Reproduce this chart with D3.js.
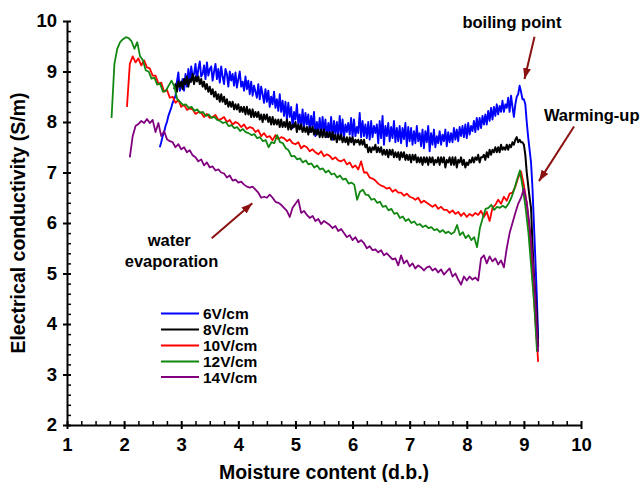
<!DOCTYPE html>
<html><head><meta charset="utf-8">
<script src="https://cdn.jsdelivr.net/npm/d3@7"></script>
<style>
html,body{margin:0;padding:0;background:#fff;}
svg text{font-family:"Liberation Sans",Arial,Helvetica,sans-serif;font-weight:bold;fill:#000;}
</style></head><body>
<svg id="chart" width="644" height="482"></svg>
<script>
const xTicks = [1,2,3,4,5,6,7,8,9,10];
const yTicks = [2,3,4,5,6,7,8,9,10];
const seriesLabels = ["6V/cm","8V/cm","10V/cm","12V/cm","14V/cm"];
const seriesColors = ["#0000ff","#000000","#ff0000","#118811","#800080"];
const seriesWidths = [1.9, 2, 1.8, 1.8, 1.8];
const seriesStart = [2.625, 2.875, 2.05, 1.78, 2.1];
const seriesStep = [0.025, 0.025, 0.05, 0.05, 0.05];

const ec6 = [7.5,7.6,7.72,7.8, 7.92,8.0,8.12,8.2, 8.28,8.38,8.45,8.52, 8.8,8.98,8.62,8.72, 8.85,8.62,8.95,8.7, 9.05,8.78,9.1,8.9, 8.95,9.15,8.82,9.05, 9.2,8.9,8.95,9.12, 8.85,9.18,8.92,9.05, 9.1,8.82,9.0,9.15, 8.85,9.05,8.78,9.1, 8.9,8.75,9.05,8.95, 8.7,9.0,8.82,8.95, 8.72,8.98,8.68,8.85, 9.0,8.7,8.8,8.62, 8.9,8.65,8.82,8.55, 8.8,8.52,8.72,8.6, 8.48,8.75,8.45,8.7, 8.55,8.38,8.65,8.4, 8.62,8.3,8.5,8.35, 8.6,8.28,8.45,8.22, 8.55,8.2,8.42,8.12, 8.4,8.05,8.38,8.1, 8.3,7.88,8.2,8.05, 8.35,7.95,8.15,7.9, 8.25,7.88,8.18,7.95, 8.15,7.8,8.12,7.9, 8.2,7.72,8.0,7.82, 8.08,7.75,8.1,7.8, 8.05,7.7,7.98,7.78, 8.1,7.65,8.02,7.75, 8.0,7.7,8.12,7.72, 8.05,7.68,7.95,7.8, 7.98,7.75,8.08,7.7, 8.05,7.72,7.9,7.78, 8.18,7.7,8.02,7.72, 7.95,7.68,8.0,7.65, 8.02,7.7,7.92,7.78, 7.95,7.58,8.02,7.68, 8.12,7.55,7.92,7.72, 7.98,7.62,7.9,7.68, 8.02,7.6,7.88,7.62, 7.92,7.58,7.88,7.66, 7.98,7.52,7.9,7.62, 7.88,7.55,7.82,7.58, 7.92,7.62,7.78,7.52, 7.85,7.48,7.82,7.6, 7.92,7.42,7.78,7.55, 7.85,7.5,7.72,7.58, 7.82,7.55,7.75,7.62, 7.85,7.52,7.8,7.6, 7.78,7.6,7.88,7.65, 7.85,7.62,7.9,7.72, 7.92,7.7,7.95,7.68, 7.98,7.75,7.92,7.82, 8.02,7.8,8.08,7.85, 8.08,7.88,8.12,7.95, 8.15,7.95,8.22,8.02, 8.28,8.05,8.3,8.12, 8.35,8.15,8.32,8.2, 8.42,8.2,8.35,8.28, 8.48,8.2,8.52,8.3, 8.1,8.35,8.5,8.55, 8.72,8.6,8.45,8.45, 8.35,8.0,7.7,7.45, 7.2,6.7,6.0,5.3, 4.6,3.7];

const ec8 = [8.65,8.75,8.6,8.8, 8.7,8.8,8.65,8.85, 8.75,8.9,8.7,8.85, 8.8,8.95,8.75,8.9, 8.8,8.9,8.75,8.85, 8.7,8.8,8.65,8.75, 8.6,8.7,8.55,8.65, 8.5,8.6,8.45,8.55, 8.4,8.55,8.4,8.5, 8.35,8.45,8.3,8.4, 8.3,8.4,8.25,8.35, 8.25,8.35,8.2,8.3, 8.2,8.3,8.15,8.3, 8.15,8.25,8.1,8.25, 8.1,8.2,8.1,8.2, 8.05,8.15,8.0,8.15, 8.05,8.15,8.0,8.1, 7.95,8.1,7.95,8.05, 7.95,8.05,7.9,8.05, 7.9,8.0,7.9,8.05, 7.85,8.0,7.85,7.95, 7.9,8.0,7.8,7.95, 7.85,7.95,7.8,7.9, 7.8,7.9,7.75,7.9, 7.8,7.9,7.75,7.85, 7.75,7.85,7.7,7.85, 7.7,7.85,7.7,7.8, 7.7,7.8,7.65,7.8, 7.65,7.75,7.6,7.75, 7.65,7.75,7.6,7.7, 7.6,7.7,7.55,7.7, 7.6,7.7,7.55,7.65, 7.6,7.65,7.55,7.65, 7.55,7.65,7.5,7.55, 7.4,7.5,7.4,7.5, 7.45,7.55,7.4,7.5, 7.4,7.5,7.35,7.45, 7.35,7.45,7.3,7.45, 7.35,7.45,7.3,7.4, 7.3,7.4,7.25,7.4, 7.3,7.4,7.25,7.35, 7.25,7.35,7.2,7.35, 7.25,7.35,7.2,7.3, 7.2,7.3,7.15,7.3, 7.2,7.3,7.15,7.3, 7.2,7.3,7.15,7.25, 7.2,7.3,7.15,7.3, 7.2,7.3,7.1,7.25, 7.2,7.3,7.15,7.3, 7.15,7.3,7.1,7.25, 7.2,7.3,7.15,7.25, 7.1,7.2,7.15,7.25, 7.2,7.3,7.2,7.3, 7.25,7.35,7.2,7.3, 7.3,7.35,7.25,7.4, 7.3,7.45,7.35,7.45, 7.4,7.5,7.4,7.5, 7.4,7.55,7.45,7.5, 7.45,7.55,7.45,7.55, 7.5,7.6,7.55,7.65, 7.7,7.6,7.65,7.6, 7.6,7.55,7.35,7.0, 6.75,6.5,6.3,5.6, 5.0,4.6,4.2,3.55];

const ec10 = [8.3,9.15,9.3,9.18,9.26,9.12,9.22,9.08,9.06,8.92,8.92,8.76,8.78,8.6,8.64,8.48,8.5,8.38,8.44,8.3,8.34,8.24,8.27,8.25,8.16,8.2,8.18,8.1,8.16,8.08,8.1,8.14,8.04,8.06,8.1,8.0,8.04,7.95,8.0,7.97,7.9,7.95,7.86,7.9,7.88,7.8,7.84,7.72,7.78,7.7,7.72,7.64,7.74,7.66,7.7,7.68,7.62,7.66,7.58,7.56,7.6,7.48,7.53,7.5,7.42,7.46,7.4,7.36,7.42,7.32,7.36,7.33,7.26,7.3,7.24,7.22,7.26,7.16,7.2,7.1,7.14,7.06,7.22,7.0,7.0,6.9,6.88,6.84,6.78,6.74,6.72,6.68,6.7,6.62,6.66,6.6,6.6,6.54,6.58,6.52,6.5,6.46,6.5,6.4,6.44,6.4,6.36,6.32,6.36,6.28,6.32,6.26,6.26,6.2,6.25,6.18,6.22,6.14,6.2,6.12,6.18,6.14,6.2,6.16,6.24,6.12,6.22,6.04,6.3,6.36,6.46,6.38,6.52,6.44,6.58,6.6,6.72,6.9,7.02,6.75,6.4,5.85,4.95,4.1,3.25];

const ec12 = [8.08,9.15,9.45,9.58,9.64,9.68,9.66,9.6,9.45,9.58,9.3,9.22,9.02,9.0,8.86,8.88,8.74,8.76,8.6,8.62,8.72,8.82,8.7,8.45,8.4,8.34,8.35,8.28,8.3,8.22,8.25,8.18,8.2,8.12,8.15,8.08,8.1,8.04,8.02,7.98,8.0,7.92,7.94,7.88,7.9,7.82,7.86,7.8,7.78,7.74,7.76,7.68,7.7,7.62,7.64,7.5,7.6,7.58,7.74,7.6,7.58,7.48,7.44,7.32,7.33,7.26,7.28,7.2,7.24,7.16,7.18,7.1,7.14,7.06,7.08,7.0,7.04,6.96,6.98,6.9,6.94,6.86,6.88,6.78,6.8,6.76,6.46,6.62,6.66,6.56,6.55,6.46,6.48,6.4,6.42,6.32,6.34,6.25,6.28,6.18,6.2,6.1,6.13,6.04,6.08,6.0,6.03,5.96,5.98,5.92,5.95,5.9,5.92,5.86,5.88,5.82,5.86,5.8,5.83,5.78,5.82,5.96,5.76,5.82,5.7,5.76,5.66,5.72,5.52,5.9,6.1,6.28,6.3,6.36,6.26,6.32,6.3,6.34,6.3,6.38,6.5,6.66,6.86,7.04,6.7,6.3,5.8,5.1,4.4,3.45];

const ec14 = [7.3,7.72,7.92,7.96,8.02,7.98,8.06,7.98,8.04,7.8,7.98,7.72,7.82,7.66,7.62,7.6,7.5,7.56,7.46,7.5,7.4,7.44,7.34,7.3,7.22,7.26,7.14,7.2,7.1,7.12,7.04,7.06,7.0,6.98,6.9,6.94,6.84,6.86,6.8,6.82,6.76,6.72,6.7,6.72,6.66,6.6,6.5,6.52,6.5,6.56,6.5,6.42,6.4,6.36,6.3,6.24,6.12,6.3,6.38,6.46,6.2,6.24,6.16,6.1,6.14,6.04,6.08,5.98,6.04,6.0,5.96,5.9,5.94,5.84,5.88,5.8,5.72,5.76,5.66,5.72,5.62,5.66,5.6,5.5,5.54,5.46,5.48,5.42,5.46,5.36,5.4,5.34,5.28,5.3,5.16,5.36,5.2,5.26,5.14,5.2,5.1,5.16,5.12,5.06,5.12,5.14,5.06,5.1,5.02,5.08,4.98,5.04,5.1,4.94,5.0,4.88,4.78,4.94,4.86,4.94,4.88,4.92,4.86,5.3,5.36,5.2,5.34,5.24,5.3,5.18,5.26,5.12,5.5,5.8,6.0,6.2,6.38,6.5,6.68,6.4,5.95,5.3,4.5,3.45];

const seriesValues = [ec6, ec8, ec10, ec12, ec14];

// annotations (data coordinates)
const annoTexts = [
  {t:"boiling point", x:8.79, y:9.86, anchor:"middle"},
  {t:"Warming-up", x:9.35, y:8.01, anchor:"start"},
  {t:"water", x:2.79, y:5.545, anchor:"middle"},
  {t:"evaporation", x:2.83, y:5.13, anchor:"middle"}
];
const annoArrows = [
  {x1:9.186, y1:9.69, x2:9.011, y2:8.85},
  {x1:9.878, y1:7.91, x2:9.265, y2:6.83},
  {x1:3.534, y1:5.70, x2:4.245, y2:6.39}
];

const svg = d3.select("#chart");
const X0 = 67, X1 = 581, Y0 = 425, Y1 = 21;
const x = d3.scaleLinear().domain([1,10]).range([X0,X1]);
const y = d3.scaleLinear().domain([2,10]).range([Y0,Y1]);

// minor ticks
const xMinor = d3.range(1,10.001,0.25).filter(v => Math.abs(v-Math.round(v))>1e-6);
const yMinor = d3.range(2,10.001,0.2).filter(v => Math.abs(v-Math.round(v))>1e-6);

svg.append("g").attr("transform",`translate(0,${Y0})`)
  .call(d3.axisBottom(x).tickValues(xMinor).tickSize(-4).tickSizeOuter(0).tickFormat(""))
  .call(g => g.select(".domain").remove())
  .selectAll("line").attr("stroke","#000").attr("stroke-width",1.5);
svg.append("g").attr("transform",`translate(${X0},0)`)
  .call(d3.axisLeft(y).tickValues(yMinor).tickSize(-4).tickSizeOuter(0).tickFormat(""))
  .call(g => g.select(".domain").remove())
  .selectAll("line").attr("stroke","#000").attr("stroke-width",1.5);

const gx = svg.append("g").attr("transform",`translate(0,${Y0})`)
  .call(d3.axisBottom(x).tickValues(xTicks).tickSize(4).tickSizeOuter(0).tickPadding(9).tickFormat(d3.format("d")));
gx.select(".domain").attr("stroke","#000").attr("stroke-width",2);
gx.selectAll(".tick line").attr("y1",-4).attr("y2",4).attr("stroke","#000").attr("stroke-width",2);
gx.selectAll(".tick text").attr("font-size",18.5).attr("font-family",null);

const gy = svg.append("g").attr("transform",`translate(${X0},0)`)
  .call(d3.axisLeft(y).tickValues(yTicks).tickSize(4).tickSizeOuter(0).tickPadding(6).tickFormat(d3.format("d")));
gy.select(".domain").attr("stroke","#000").attr("stroke-width",2);
gy.selectAll(".tick line").attr("x1",4).attr("x2",-4).attr("stroke","#000").attr("stroke-width",2);
gy.selectAll(".tick text").attr("font-size",18.5).attr("font-family",null);

// axis titles
svg.append("text").attr("x",(X0+X1)/2).attr("y",479).attr("text-anchor","middle")
  .attr("font-size",19.5).text("Moisture content (d.b.)");
svg.append("text").attr("transform",`translate(25,${(Y0+Y1)/2}) rotate(-90)`).attr("text-anchor","middle")
  .attr("font-size",19.5).text("Electrical conductivity (S/m)");

// series
const line = d3.line().x(d => x(d[0])).y(d => y(d[1]));
seriesValues.forEach((vals,i) => {
  const pts = vals.map((v,j) => [seriesStart[i] + j*seriesStep[i], v]);
  svg.append("path").datum(pts).attr("d",line).attr("fill","none")
    .attr("stroke",seriesColors[i]).attr("stroke-width", seriesWidths[i])
    .attr("stroke-linejoin","round");
});

// legend
const legY = [313.5, 329.5, 345.5, 361.5, 377];
seriesLabels.forEach((lab,i) => {
  svg.append("line").attr("x1",161).attr("x2",199).attr("y1",legY[i]).attr("y2",legY[i])
    .attr("stroke",seriesColors[i]).attr("stroke-width",2);
  svg.append("text").attr("x",203).attr("y",legY[i]+5.5).attr("font-size",15.5).text(lab);
});

// annotations
const arrowColor = "#8b1010";
svg.append("defs").append("marker").attr("id","ah").attr("markerUnits","userSpaceOnUse")
  .attr("markerWidth",11).attr("markerHeight",8).attr("refX",11).attr("refY",4).attr("orient","auto")
  .append("path").attr("d","M0,0 L11,4 L0,8 Z").attr("fill",arrowColor);
annoArrows.forEach(a => {
  svg.append("line").attr("x1",x(a.x1)).attr("y1",y(a.y1)).attr("x2",x(a.x2)).attr("y2",y(a.y2))
    .attr("stroke",arrowColor).attr("stroke-width",2).attr("marker-end","url(#ah)");
});
annoTexts.forEach(a => {
  svg.append("text").attr("x",x(a.x)).attr("y",y(a.y)).attr("text-anchor",a.anchor)
    .attr("font-size",16.5).text(a.t);
});
</script>
</body></html>
